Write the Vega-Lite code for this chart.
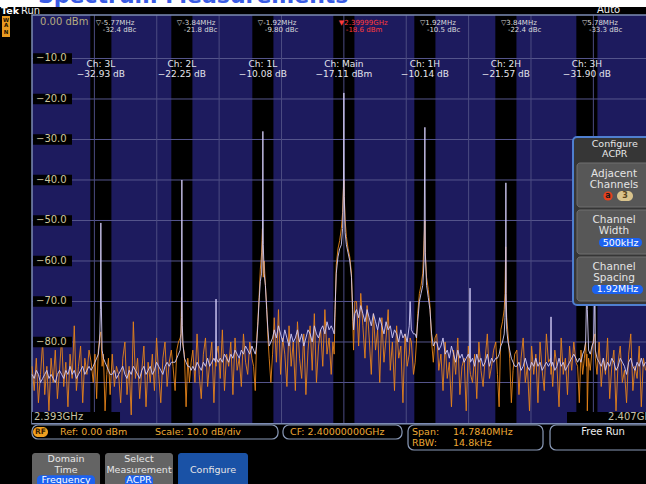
{
"$schema": "https://vega.github.io/schema/vega-lite/v6.json",
"width": 646, "height": 484,
"autosize": {"type": "none"},
"padding": 0,
"background": "#000000",
"config": {"view": {"stroke": null}, "text": {"font": "DejaVu Sans"}},
"encoding": {
 "x": {"field": "f", "type": "quantitative", "scale": {"domain": [2391.8495, 2407.161], "nice": false, "zero": false}, "axis": null},
 "y": {"field": "d", "type": "quantitative", "scale": {"domain": [-115.062, 4.444], "nice": false, "zero": false}, "axis": null}
},
"datasets": {
 "strip": [{"f": 2391.8, "f2": 2407.3, "d": 4.5, "d2": 2.716}],
 "title": [{"f": 2392.75, "d": 3.6, "t": "Spectrum Measurements"}],
 "plotbg": [{"f": 2392.608, "f2": 2407.392, "d": 0.74, "d2": -100.0}],
 "chan": [
  {"f": 2393.99, "f2": 2394.49, "d": 0.74, "d2": -100.0, "ch": "3L"},
  {"f": 2395.91, "f2": 2396.41, "d": 0.74, "d2": -100.0, "ch": "2L"},
  {"f": 2397.83, "f2": 2398.33, "d": 0.74, "d2": -100.0, "ch": "1L"},
  {"f": 2399.75, "f2": 2400.25, "d": 0.74, "d2": -100.0, "ch": "Main"},
  {"f": 2401.67, "f2": 2402.17, "d": 0.74, "d2": -100.0, "ch": "1H"},
  {"f": 2403.59, "f2": 2404.09, "d": 0.74, "d2": -100.0, "ch": "2H"},
  {"f": 2405.51, "f2": 2406.01, "d": 0.74, "d2": -100.0, "ch": "3H"}
 ],
 "hgrid": [
  {"f": 2392.608, "f2": 2407.392, "d": -10}, {"f": 2392.608, "f2": 2407.392, "d": -20},
  {"f": 2392.608, "f2": 2407.392, "d": -30}, {"f": 2392.608, "f2": 2407.392, "d": -40},
  {"f": 2392.608, "f2": 2407.392, "d": -50}, {"f": 2392.608, "f2": 2407.392, "d": -60},
  {"f": 2392.608, "f2": 2407.392, "d": -70}, {"f": 2392.608, "f2": 2407.392, "d": -80},
  {"f": 2392.608, "f2": 2407.392, "d": -90}
 ],
 "vgrid": [
  {"f": 2394.0864, "d": 0.74, "d2": -100}, {"f": 2395.5648, "d": 0.74, "d2": -100},
  {"f": 2397.0432, "d": 0.74, "d2": -100}, {"f": 2398.5216, "d": 0.74, "d2": -100},
  {"f": 2400.0, "d": 0.74, "d2": -100}, {"f": 2401.4784, "d": 0.74, "d2": -100},
  {"f": 2402.9568, "d": 0.74, "d2": -100}, {"f": 2404.4352, "d": 0.74, "d2": -100},
  {"f": 2405.9136, "d": 0.74, "d2": -100}
 ],
 "border": [{"f": 2392.608, "f2": 2407.5, "d": 0.74, "d2": -100.2}],
 "trace": [
  {"f":2392.61,"w":-88,"o":-86},{"f":2392.66,"w":-89,"o":-92},{"f":2392.71,"w":-87,"o":-84},{"f":2392.76,"w":-88,"o":-95},
  {"f":2392.81,"w":-90,"o":-88},{"f":2392.86,"w":-89,"o":-80},{"f":2392.91,"w":-88,"o":-93},{"f":2392.96,"w":-87,"o":-86},
  {"f":2393.01,"w":-89,"o":-97},{"f":2393.06,"w":-88,"o":-84},{"f":2393.11,"w":-89,"o":-90},{"f":2393.16,"w":-90,"o":-82},
  {"f":2393.21,"w":-88,"o":-94},{"f":2393.26,"w":-87,"o":-87},{"f":2393.31,"w":-88,"o":-79},{"f":2393.36,"w":-89,"o":-91},
  {"f":2393.41,"w":-87,"o":-85},{"f":2393.46,"w":-88,"o":-96},{"f":2393.51,"w":-86,"o":-83},{"f":2393.56,"w":-88,"o":-89},
  {"f":2393.61,"w":-87,"o":-76},{"f":2393.66,"w":-89,"o":-92},{"f":2393.71,"w":-88,"o":-86},{"f":2393.76,"w":-87,"o":-81},
  {"f":2393.81,"w":-86,"o":-95},{"f":2393.86,"w":-88,"o":-84},{"f":2393.91,"w":-87,"o":-88},{"f":2393.96,"w":-86,"o":-82},
  {"f":2394.01,"w":-87,"o":-85},{"f":2394.06,"w":-86,"o":-90},{"f":2394.10,"w":-85,"o":-83},{"f":2394.14,"w":-84,"o":-94},
  {"f":2394.18,"w":-83,"o":-82},{"f":2394.21,"w":-80,"o":-79},{"f":2394.23,"w":-72,"o":-78},{"f":2394.24,"w":-50.6,"o":-77.5},
  {"f":2394.25,"w":-70,"o":-80},{"f":2394.27,"w":-82,"o":-86},{"f":2394.30,"w":-84,"o":-83},{"f":2394.34,"w":-85,"o":-97},
  {"f":2394.38,"w":-86,"o":-88},{"f":2394.42,"w":-87,"o":-84},{"f":2394.46,"w":-88,"o":-93},
  {"f":2394.51,"w":-88,"o":-83},{"f":2394.56,"w":-87,"o":-91},{"f":2394.61,"w":-89,"o":-86},{"f":2394.66,"w":-88,"o":-88},
  {"f":2394.71,"w":-87,"o":-95},{"f":2394.76,"w":-86,"o":-84},{"f":2394.81,"w":-88,"o":-80},{"f":2394.86,"w":-89,"o":-93},
  {"f":2394.91,"w":-87,"o":-86},{"f":2394.96,"w":-88,"o":-98},{"f":2395.01,"w":-86,"o":-75},{"f":2395.06,"w":-87,"o":-89},
  {"f":2395.11,"w":-88,"o":-84},{"f":2395.16,"w":-89,"o":-94},{"f":2395.21,"w":-87,"o":-87},{"f":2395.26,"w":-86,"o":-81},
  {"f":2395.31,"w":-88,"o":-96},{"f":2395.36,"w":-87,"o":-85},{"f":2395.41,"w":-86,"o":-90},{"f":2395.46,"w":-88,"o":-83},
  {"f":2395.51,"w":-87,"o":-92},{"f":2395.56,"w":-85,"o":-79},{"f":2395.61,"w":-86,"o":-88},{"f":2395.66,"w":-87,"o":-95},
  {"f":2395.71,"w":-88,"o":-84},{"f":2395.76,"w":-86,"o":-80},{"f":2395.81,"w":-85,"o":-91},{"f":2395.86,"w":-86,"o":-85},
  {"f":2395.91,"w":-85,"o":-82},
  {"f":2395.95,"w":-85,"o":-86},{"f":2396.00,"w":-85,"o":-92},{"f":2396.04,"w":-84,"o":-82},{"f":2396.08,"w":-83,"o":-80},
  {"f":2396.12,"w":-82,"o":-79},{"f":2396.14,"w":-78,"o":-78},{"f":2396.15,"w":-74,"o":-69},{"f":2396.16,"w":-40,"o":-74},
  {"f":2396.17,"w":-76,"o":-80},{"f":2396.19,"w":-81,"o":-81},{"f":2396.22,"w":-84,"o":-83},{"f":2396.26,"w":-85,"o":-96},
  {"f":2396.30,"w":-86,"o":-84},{"f":2396.34,"w":-86,"o":-90},{"f":2396.38,"w":-87,"o":-85},
  {"f":2396.42,"w":-86,"o":-82},{"f":2396.47,"w":-87,"o":-90},{"f":2396.52,"w":-85,"o":-78},{"f":2396.57,"w":-86,"o":-88},
  {"f":2396.62,"w":-87,"o":-94},{"f":2396.67,"w":-85,"o":-83},{"f":2396.72,"w":-86,"o":-79},{"f":2396.77,"w":-84,"o":-91},
  {"f":2396.82,"w":-86,"o":-85},{"f":2396.87,"w":-85,"o":-80},{"f":2396.92,"w":-84,"o":-95},{"f":2396.96,"w":-85,"o":-84},
  {"f":2396.97,"w":-69.4,"o":-86},{"f":2396.98,"w":-84,"o":-83},{"f":2397.02,"w":-85,"o":-81},{"f":2397.07,"w":-84,"o":-89},
  {"f":2397.12,"w":-85,"o":-77},{"f":2397.17,"w":-83,"o":-92},{"f":2397.22,"w":-84,"o":-83},{"f":2397.27,"w":-85,"o":-86},
  {"f":2397.32,"w":-83,"o":-80},{"f":2397.37,"w":-84,"o":-93},{"f":2397.42,"w":-82,"o":-79},{"f":2397.47,"w":-83,"o":-87},
  {"f":2397.52,"w":-84,"o":-84},{"f":2397.57,"w":-82,"o":-91},{"f":2397.62,"w":-83,"o":-78},{"f":2397.67,"w":-81,"o":-85},
  {"f":2397.72,"w":-82,"o":-88},{"f":2397.77,"w":-83,"o":-80},{"f":2397.82,"w":-81,"o":-84},
  {"f":2397.86,"w":-82,"o":-86},{"f":2397.90,"w":-83,"o":-92},{"f":2397.93,"w":-81,"o":-80},{"f":2397.96,"w":-76,"o":-75},
  {"f":2397.99,"w":-70,"o":-69},{"f":2398.02,"w":-65,"o":-62},{"f":2398.05,"w":-63,"o":-58},{"f":2398.07,"w":-55,"o":-52},
  {"f":2398.08,"w":-28,"o":-60},{"f":2398.09,"w":-56,"o":-64},{"f":2398.11,"w":-63,"o":-60},{"f":2398.14,"w":-66,"o":-66},
  {"f":2398.17,"w":-72,"o":-71},{"f":2398.20,"w":-77,"o":-79},{"f":2398.23,"w":-81,"o":-84},{"f":2398.27,"w":-80,"o":-90},
  {"f":2398.31,"w":-79,"o":-83},
  {"f":2398.35,"w":-77,"o":-74},{"f":2398.40,"w":-79,"o":-85},{"f":2398.45,"w":-76,"o":-72},{"f":2398.50,"w":-78,"o":-88},
  {"f":2398.55,"w":-80,"o":-79},{"f":2398.60,"w":-77,"o":-83},{"f":2398.65,"w":-79,"o":-91},{"f":2398.70,"w":-81,"o":-76},
  {"f":2398.75,"w":-78,"o":-86},{"f":2398.80,"w":-80,"o":-80},{"f":2398.85,"w":-79,"o":-92},{"f":2398.90,"w":-77,"o":-75},
  {"f":2398.95,"w":-80,"o":-84},{"f":2399.00,"w":-78,"o":-89},{"f":2399.05,"w":-81,"o":-78},{"f":2399.10,"w":-79,"o":-93},
  {"f":2399.15,"w":-77,"o":-82},{"f":2399.20,"w":-78,"o":-76},{"f":2399.25,"w":-80,"o":-87},{"f":2399.30,"w":-76,"o":-73},
  {"f":2399.35,"w":-78,"o":-90},{"f":2399.40,"w":-79,"o":-81},{"f":2399.45,"w":-77,"o":-77},{"f":2399.50,"w":-76,"o":-86},
  {"f":2399.55,"w":-78,"o":-72},{"f":2399.60,"w":-75,"o":-83},{"f":2399.65,"w":-77,"o":-79},{"f":2399.70,"w":-76,"o":-88},
  {"f":2399.74,"w":-77,"o":-80},{"f":2399.77,"w":-78,"o":-83},{"f":2399.79,"w":-72,"o":-74},{"f":2399.82,"w":-63,"o":-61},
  {"f":2399.86,"w":-59,"o":-57},{"f":2399.90,"w":-57,"o":-55},{"f":2399.94,"w":-56,"o":-52},{"f":2399.97,"w":-52,"o":-48},
  {"f":2399.99,"w":-42,"o":-42},{"f":2400.00,"w":-18.5,"o":-40},{"f":2400.01,"w":-44,"o":-44},{"f":2400.03,"w":-53,"o":-50},
  {"f":2400.06,"w":-56,"o":-54},{"f":2400.10,"w":-58,"o":-57},{"f":2400.14,"w":-60,"o":-59},{"f":2400.18,"w":-64,"o":-63},
  {"f":2400.21,"w":-72,"o":-75},{"f":2400.23,"w":-77,"o":-82},{"f":2400.26,"w":-73,"o":-70},
  {"f":2400.30,"w":-72,"o":-70},{"f":2400.35,"w":-74,"o":-81},{"f":2400.40,"w":-71,"o":-68},{"f":2400.45,"w":-73,"o":-76},
  {"f":2400.50,"w":-75,"o":-84},{"f":2400.55,"w":-72,"o":-71},{"f":2400.60,"w":-74,"o":-79},{"f":2400.65,"w":-76,"o":-88},
  {"f":2400.70,"w":-73,"o":-73},{"f":2400.75,"w":-75,"o":-82},{"f":2400.80,"w":-77,"o":-77},{"f":2400.85,"w":-74,"o":-90},
  {"f":2400.90,"w":-76,"o":-74},{"f":2400.95,"w":-78,"o":-85},{"f":2401.00,"w":-75,"o":-79},{"f":2401.05,"w":-77,"o":-72},
  {"f":2401.10,"w":-76,"o":-87},{"f":2401.15,"w":-79,"o":-80},{"f":2401.20,"w":-77,"o":-92},{"f":2401.25,"w":-78,"o":-76},
  {"f":2401.30,"w":-80,"o":-84},{"f":2401.35,"w":-77,"o":-81},{"f":2401.40,"w":-79,"o":-95},{"f":2401.45,"w":-78,"o":-78},
  {"f":2401.50,"w":-80,"o":-86},{"f":2401.55,"w":-76,"o":-83},{"f":2401.57,"w":-70,"o":-79},{"f":2401.60,"w":-77,"o":-80},
  {"f":2401.65,"w":-78,"o":-88},
  {"f":2401.69,"w":-78,"o":-85},{"f":2401.72,"w":-79,"o":-80},{"f":2401.75,"w":-75,"o":-73},{"f":2401.79,"w":-70,"o":-68},
  {"f":2401.83,"w":-68,"o":-66},{"f":2401.87,"w":-66,"o":-63},{"f":2401.90,"w":-60,"o":-55},{"f":2401.92,"w":-27,"o":-50},
  {"f":2401.93,"w":-58,"o":-58},{"f":2401.96,"w":-66,"o":-64},{"f":2402.00,"w":-69,"o":-67},{"f":2402.04,"w":-72,"o":-71},
  {"f":2402.08,"w":-78,"o":-80},{"f":2402.12,"w":-81,"o":-85},{"f":2402.16,"w":-80,"o":-79},
  {"f":2402.20,"w":-80,"o":-78},{"f":2402.25,"w":-82,"o":-87},{"f":2402.30,"w":-81,"o":-83},{"f":2402.35,"w":-79,"o":-92},
  {"f":2402.40,"w":-83,"o":-80},{"f":2402.45,"w":-82,"o":-89},{"f":2402.50,"w":-84,"o":-85},{"f":2402.55,"w":-81,"o":-96},
  {"f":2402.60,"w":-83,"o":-82},{"f":2402.65,"w":-85,"o":-88},{"f":2402.70,"w":-82,"o":-79},{"f":2402.75,"w":-84,"o":-93},
  {"f":2402.80,"w":-83,"o":-86},{"f":2402.85,"w":-85,"o":-84},{"f":2402.90,"w":-84,"o":-97},{"f":2402.95,"w":-83,"o":-81},
  {"f":2402.98,"w":-84,"o":-85},{"f":2402.99,"w":-66.7,"o":-87},{"f":2403.00,"w":-85,"o":-88},{"f":2403.05,"w":-84,"o":-90},
  {"f":2403.10,"w":-86,"o":-83},{"f":2403.15,"w":-83,"o":-94},{"f":2403.20,"w":-85,"o":-80},{"f":2403.25,"w":-84,"o":-87},
  {"f":2403.30,"w":-86,"o":-91},{"f":2403.35,"w":-85,"o":-84},{"f":2403.40,"w":-83,"o":-78},{"f":2403.45,"w":-86,"o":-89},
  {"f":2403.50,"w":-84,"o":-86},{"f":2403.55,"w":-85,"o":-82},{"f":2403.60,"w":-84,"o":-80},
  {"f":2403.64,"w":-84,"o":-88},{"f":2403.68,"w":-83,"o":-96},{"f":2403.72,"w":-81,"o":-77},{"f":2403.76,"w":-80,"o":-75},
  {"f":2403.80,"w":-78,"o":-72},{"f":2403.82,"w":-74,"o":-68},{"f":2403.835,"w":-65,"o":-56.5},{"f":2403.84,"w":-40.7,"o":-62},
  {"f":2403.845,"w":-68,"o":-70},{"f":2403.86,"w":-77,"o":-74},{"f":2403.89,"w":-80,"o":-78},{"f":2403.93,"w":-82,"o":-84},
  {"f":2403.97,"w":-84,"o":-95},{"f":2404.01,"w":-85,"o":-87},{"f":2404.05,"w":-86,"o":-83},
  {"f":2404.10,"w":-86,"o":-82},{"f":2404.15,"w":-85,"o":-93},{"f":2404.20,"w":-87,"o":-84},{"f":2404.25,"w":-86,"o":-79},
  {"f":2404.30,"w":-84,"o":-90},{"f":2404.35,"w":-86,"o":-86},{"f":2404.40,"w":-87,"o":-97},{"f":2404.45,"w":-85,"o":-81},
  {"f":2404.50,"w":-86,"o":-88},{"f":2404.55,"w":-84,"o":-83},{"f":2404.60,"w":-86,"o":-95},{"f":2404.65,"w":-85,"o":-80},
  {"f":2404.70,"w":-87,"o":-87},{"f":2404.75,"w":-86,"o":-92},{"f":2404.80,"w":-85,"o":-78},{"f":2404.85,"w":-86,"o":-85},
  {"f":2404.90,"w":-85,"o":-84},{"f":2404.91,"w":-73.8,"o":-88},{"f":2404.92,"w":-86,"o":-86},{"f":2404.95,"w":-85,"o":-91},
  {"f":2405.00,"w":-87,"o":-82},{"f":2405.05,"w":-86,"o":-86},{"f":2405.10,"w":-84,"o":-96},{"f":2405.15,"w":-86,"o":-79},
  {"f":2405.20,"w":-85,"o":-88},{"f":2405.25,"w":-87,"o":-84},{"f":2405.30,"w":-86,"o":-93},{"f":2405.35,"w":-85,"o":-81},
  {"f":2405.40,"w":-84,"o":-87},{"f":2405.45,"w":-83,"o":-80},{"f":2405.50,"w":-84,"o":-85},
  {"f":2405.54,"w":-85,"o":-86},{"f":2405.58,"w":-84,"o":-95},{"f":2405.62,"w":-85,"o":-82},{"f":2405.66,"w":-83,"o":-88},
  {"f":2405.70,"w":-82,"o":-84},{"f":2405.73,"w":-80,"o":-80},{"f":2405.75,"w":-70,"o":-86},{"f":2405.76,"w":-51,"o":-83},
  {"f":2405.77,"w":-72,"o":-97},{"f":2405.80,"w":-82,"o":-84},{"f":2405.84,"w":-83,"o":-87},{"f":2405.88,"w":-81,"o":-82},
  {"f":2405.92,"w":-80,"o":-79},{"f":2405.95,"w":-66,"o":-78},{"f":2405.96,"w":-82,"o":-84},{"f":2406.00,"w":-84,"o":-88},
  {"f":2406.05,"w":-85,"o":-80},{"f":2406.10,"w":-86,"o":-91},{"f":2406.15,"w":-84,"o":-84},{"f":2406.20,"w":-87,"o":-88},
  {"f":2406.25,"w":-85,"o":-79},{"f":2406.30,"w":-86,"o":-94},{"f":2406.35,"w":-84,"o":-86},{"f":2406.40,"w":-85,"o":-82},
  {"f":2406.45,"w":-87,"o":-97},{"f":2406.50,"w":-86,"o":-85},{"f":2406.55,"w":-84,"o":-81},{"f":2406.60,"w":-85,"o":-90},
  {"f":2406.65,"w":-86,"o":-87},{"f":2406.70,"w":-88,"o":-95},{"f":2406.75,"w":-85,"o":-83},{"f":2406.80,"w":-84,"o":-78},
  {"f":2406.85,"w":-86,"o":-92},{"f":2406.90,"w":-87,"o":-86},{"f":2406.95,"w":-85,"o":-89},{"f":2407.00,"w":-86,"o":-81},
  {"f":2407.05,"w":-84,"o":-96},{"f":2407.10,"w":-86,"o":-84},{"f":2407.15,"w":-85,"o":-87}
 ],
 "ylabbox": [
  {"f": 2392.632, "f2": 2393.556, "d": -8.7, "d2": -11.3}, {"f": 2392.632, "f2": 2393.556, "d": -18.7, "d2": -21.3},
  {"f": 2392.632, "f2": 2393.556, "d": -28.7, "d2": -31.3}, {"f": 2392.632, "f2": 2393.556, "d": -38.7, "d2": -41.3},
  {"f": 2392.632, "f2": 2393.556, "d": -48.7, "d2": -51.3}, {"f": 2392.632, "f2": 2393.556, "d": -58.7, "d2": -61.3},
  {"f": 2392.632, "f2": 2393.556, "d": -68.7, "d2": -71.3}, {"f": 2392.632, "f2": 2393.556, "d": -78.7, "d2": -81.3}
 ],
 "ylab": [
  {"f": 2392.703, "d": -10, "t": "−10.0"}, {"f": 2392.703, "d": -20, "t": "−20.0"},
  {"f": 2392.703, "d": -30, "t": "−30.0"}, {"f": 2392.703, "d": -40, "t": "−40.0"},
  {"f": 2392.703, "d": -50, "t": "−50.0"}, {"f": 2392.703, "d": -60, "t": "−60.0"},
  {"f": 2392.703, "d": -70, "t": "−70.0"}, {"f": 2392.703, "d": -80, "t": "−80.0"}
 ],
 "reflab": [{"f": 2392.798, "d": -0.988, "t": "0.00 dBm"}],
 "freqbox": [{"f": 2392.608, "f2": 2394.694, "d": -97.284, "d2": -100.0}, {"f": 2405.289, "f2": 2407.5, "d": -97.284, "d2": -100.0}],
 "freqlab": [{"f": 2392.655, "d": -98.64, "t": "2.393GHz"}, {"f": 2406.261, "d": -98.64, "t": "2.407GHz"}],
 "chlab": [
  {"f": 2394.24, "d": -11.407, "t": "Ch: 3L"}, {"f": 2394.24, "d": -13.778, "t": "−32.93 dB"},
  {"f": 2396.16, "d": -11.407, "t": "Ch: 2L"}, {"f": 2396.16, "d": -13.778, "t": "−22.25 dB"},
  {"f": 2398.08, "d": -11.407, "t": "Ch: 1L"}, {"f": 2398.08, "d": -13.778, "t": "−10.08 dB"},
  {"f": 2400.0, "d": -11.407, "t": "Ch: Main"}, {"f": 2400.0, "d": -13.778, "t": "−17.11 dBm"},
  {"f": 2401.92, "d": -11.407, "t": "Ch: 1H"}, {"f": 2401.92, "d": -13.778, "t": "−10.14 dB"},
  {"f": 2403.84, "d": -11.407, "t": "Ch: 2H"}, {"f": 2403.84, "d": -13.778, "t": "−21.57 dB"},
  {"f": 2405.76, "d": -11.407, "t": "Ch: 3H"}, {"f": 2405.76, "d": -13.778, "t": "−31.90 dB"}
 ],
 "markers": [
  {"f": 2394.24, "d": -1.186, "t": "▽-5.77MHz", "l": 1, "r": 0}, {"f": 2394.24, "d": -2.889, "t": "-32.4 dBc", "l": 2, "r": 0},
  {"f": 2396.16, "d": -1.186, "t": "▽-3.84MHz", "l": 1, "r": 0}, {"f": 2396.16, "d": -2.889, "t": "-21.8 dBc", "l": 2, "r": 0},
  {"f": 2398.08, "d": -1.186, "t": "▽-1.92MHz", "l": 1, "r": 0}, {"f": 2398.08, "d": -2.889, "t": "-9.80 dBc", "l": 2, "r": 0},
  {"f": 2400.0, "d": -1.186, "t": "▼2.39999GHz", "l": 1, "r": 1}, {"f": 2400.0, "d": -2.889, "t": "-18.6 dBm", "l": 2, "r": 1},
  {"f": 2401.92, "d": -1.186, "t": "▽1.92MHz", "l": 1, "r": 0}, {"f": 2401.92, "d": -2.889, "t": "-10.5 dBc", "l": 2, "r": 0},
  {"f": 2403.84, "d": -1.186, "t": "▽3.84MHz", "l": 1, "r": 0}, {"f": 2403.84, "d": -2.889, "t": "-22.4 dBc", "l": 2, "r": 0},
  {"f": 2405.76, "d": -1.186, "t": "▽5.78MHz", "l": 1, "r": 0}, {"f": 2405.76, "d": -2.889, "t": "-33.3 dBc", "l": 2, "r": 0}
 ],
 "tek": [{"f": 2391.873, "d": 1.605, "t": "Tek"}],
 "hdr": [{"f": 2392.347, "d": 1.605, "t": "Run"}, {"f": 2406.0, "d": 1.9, "t": "Auto"}],
 "wanbox": [{"f": 2391.897, "f2": 2392.087, "d": 0.494, "d2": -4.692}],
 "wantext": [{"f": 2391.992, "d": -0.371, "t": "W"}, {"f": 2391.992, "d": -1.852, "t": "A"}, {"f": 2391.992, "d": -3.58, "t": "N"}],
 "statbox": [
  {"f": 2392.608, "f2": 2398.439, "d": -100.494, "d2": -103.951},
  {"f": 2398.557, "f2": 2401.378, "d": -100.494, "d2": -103.951},
  {"f": 2401.520, "f2": 2404.720, "d": -100.494, "d2": -106.667},
  {"f": 2404.886, "f2": 2407.6, "d": -100.494, "d2": -106.667}
 ],
 "rfbox": [{"f": 2392.632, "f2": 2392.987, "d": -100.988, "d2": -103.457}],
 "rftext": [{"f": 2392.809, "d": -102.223, "t": "RF"}],
 "gold": [
  {"f": 2393.272, "d": -102.223, "t": "Ref: 0.00 dBm"},
  {"f": 2395.523, "d": -102.223, "t": "Scale: 10.0 dB/div"},
  {"f": 2398.723, "d": -102.223, "t": "CF: 2.40000000GHz"},
  {"f": 2401.615, "d": -102.223, "t": "Span:"},
  {"f": 2402.587, "d": -102.223, "t": "14.7840MHz"},
  {"f": 2401.615, "d": -104.938, "t": "RBW:"},
  {"f": 2402.587, "d": -104.938, "t": "14.8kHz"}
 ],
 "freerun": [{"f": 2406.142, "d": -102.223, "t": "Free Run"}],
 "btn": [
  {"f": 2392.608, "f2": 2394.220, "d": -107.408, "d2": -117, "k": "g"},
  {"f": 2394.338, "f2": 2395.950, "d": -107.408, "d2": -117, "k": "g"},
  {"f": 2396.069, "f2": 2397.728, "d": -107.408, "d2": -117, "k": "b"}
 ],
 "btntext": [
  {"f": 2393.414, "d": -108.889, "t": "Domain"}, {"f": 2393.414, "d": -111.7, "t": "Time"},
  {"f": 2395.144, "d": -108.889, "t": "Select"}, {"f": 2395.144, "d": -111.5, "t": "Measurement"},
  {"f": 2396.898, "d": -111.605, "t": "Configure"}
 ],
 "hl": [
  {"f": 2392.727, "f2": 2394.101, "d": -112.9, "d2": -116.5},
  {"f": 2394.812, "f2": 2395.476, "d": -112.9, "d2": -116.5},
  {"f": 2406.047, "f2": 2407.066, "d": -54.321, "d2": -56.544},
  {"f": 2405.881, "f2": 2407.090, "d": -65.926, "d2": -68.149}
 ],
 "hltext": [
  {"f": 2393.414, "d": -114.1, "t": "Frequency"},
  {"f": 2395.144, "d": -114.1, "t": "ACPR"},
  {"f": 2406.557, "d": -55.482, "t": "500kHz"},
  {"f": 2406.486, "d": -66.988, "t": "1.92MHz"}
 ],
 "panel": [{"f": 2405.431, "f2": 2407.6, "d": -29.383, "d2": -70.865}],
 "pbtn": [
  {"f": 2405.526, "f2": 2407.6, "d": -35.803, "d2": -46.667},
  {"f": 2405.526, "f2": 2407.6, "d": -47.408, "d2": -58.272},
  {"f": 2405.526, "f2": 2407.6, "d": -59.013, "d2": -69.877}
 ],
 "ptitle": [{"f": 2406.42, "d": -31.2, "t": "Configure"}, {"f": 2406.42, "d": -33.55, "t": "ACPR"}],
 "ptext": [
  {"f": 2406.403, "d": -38.45, "t": "Adjacent"}, {"f": 2406.403, "d": -41.15, "t": "Channels"},
  {"f": 2406.403, "d": -49.9, "t": "Channel"}, {"f": 2406.403, "d": -52.6, "t": "Width"},
  {"f": 2406.403, "d": -61.4, "t": "Channel"}, {"f": 2406.403, "d": -64.1, "t": "Spacing"}
 ],
 "reddot": [{"f": 2406.261, "d": -43.951, "t": "a"}],
 "beige": [{"f": 2406.474, "f2": 2406.853, "d": -42.717, "d2": -45.19}],
 "beigetext": [{"f": 2406.663, "d": -43.951, "t": "3"}]
},
"layer": [
 {"data": {"name": "strip"}, "mark": {"type": "rect", "color": "#ffffff"}, "encoding": {"x2": {"field": "f2"}, "y2": {"field": "d2"}}},
 {"data": {"name": "title"}, "mark": {"type": "text", "align": "left", "baseline": "alphabetic", "fontSize": 22, "fontWeight": "bold", "color": "#3a5ce4"}, "encoding": {"text": {"field": "t"}}},
 {"data": {"name": "plotbg"}, "mark": {"type": "rect", "color": "#1d1b5e"}, "encoding": {"x2": {"field": "f2"}, "y2": {"field": "d2"}}},
 {"data": {"name": "chan"}, "mark": {"type": "rect", "color": "#000000"}, "encoding": {"x2": {"field": "f2"}, "y2": {"field": "d2"}}},
 {"data": {"name": "hgrid"}, "mark": {"type": "rule", "color": "#56568c", "strokeWidth": 1}, "encoding": {"x2": {"field": "f2"}}},
 {"data": {"name": "vgrid"}, "mark": {"type": "rule", "color": "#4c4c82", "strokeWidth": 1}, "encoding": {"y2": {"field": "d2"}}},
 {"data": {"name": "border"}, "mark": {"type": "rect", "filled": false, "color": "#7c8cb4", "strokeWidth": 1.5}, "encoding": {"x2": {"field": "f2"}, "y2": {"field": "d2"}}},
 {"data": {"name": "trace"}, "mark": {"type": "line", "color": "#e8841a", "strokeWidth": 1, "opacity": 0.9}, "encoding": {"y": {"field": "o", "type": "quantitative", "scale": {"domain": [-115.062, 4.444], "nice": false, "zero": false}, "axis": null}}},
 {"data": {"name": "trace"}, "mark": {"type": "line", "color": "#d2cbf6", "strokeWidth": 1, "opacity": 0.9}, "encoding": {"y": {"field": "w", "type": "quantitative", "scale": {"domain": [-115.062, 4.444], "nice": false, "zero": false}, "axis": null}}},
 {"data": {"name": "ylabbox"}, "mark": {"type": "rect", "color": "#000000"}, "encoding": {"x2": {"field": "f2"}, "y2": {"field": "d2"}}},
 {"data": {"name": "ylab"}, "mark": {"type": "text", "align": "left", "fontSize": 10, "color": "#cfc69f"}, "encoding": {"text": {"field": "t"}}},
 {"data": {"name": "reflab"}, "mark": {"type": "text", "align": "left", "fontSize": 10, "color": "#b4aa80"}, "encoding": {"text": {"field": "t"}}},
 {"data": {"name": "freqbox"}, "mark": {"type": "rect", "color": "#000000"}, "encoding": {"x2": {"field": "f2"}, "y2": {"field": "d2"}}},
 {"data": {"name": "freqlab"}, "mark": {"type": "text", "align": "left", "fontSize": 10, "color": "#c6c0a8"}, "encoding": {"text": {"field": "t"}}},
 {"data": {"name": "chlab"}, "mark": {"type": "text", "align": "center", "fontSize": 9, "color": "#e4e4ec"}, "encoding": {"text": {"field": "t"}}},
 {"data": {"name": "markers"}, "transform": [{"filter": "datum.l == 1"}], "mark": {"type": "text", "align": "left", "dx": -5, "fontSize": 7}, "encoding": {"text": {"field": "t"}, "color": {"condition": {"test": "datum.r == 1", "value": "#ff3a3a"}, "value": "#dcdcdc"}}},
 {"data": {"name": "markers"}, "transform": [{"filter": "datum.l == 2"}], "mark": {"type": "text", "align": "left", "dx": 2, "fontSize": 7}, "encoding": {"text": {"field": "t"}, "color": {"condition": {"test": "datum.r == 1", "value": "#ff3a3a"}, "value": "#dcdcdc"}}},
 {"data": {"name": "tek"}, "mark": {"type": "text", "align": "left", "fontSize": 9.5, "fontWeight": "bold", "color": "#ffffff"}, "encoding": {"text": {"field": "t"}}},
 {"data": {"name": "hdr"}, "mark": {"type": "text", "align": "left", "fontSize": 10, "color": "#f0f0f0"}, "encoding": {"text": {"field": "t"}}},
 {"data": {"name": "wanbox"}, "mark": {"type": "rect", "color": "#e89a20"}, "encoding": {"x2": {"field": "f2"}, "y2": {"field": "d2"}}},
 {"data": {"name": "wantext"}, "mark": {"type": "text", "align": "center", "fontSize": 5.5, "fontWeight": "bold", "color": "#1a1000"}, "encoding": {"text": {"field": "t"}}},
 {"data": {"name": "statbox"}, "mark": {"type": "rect", "fill": "#000000", "stroke": "#8a9ab8", "strokeWidth": 1.2, "cornerRadius": 6}, "encoding": {"x2": {"field": "f2"}, "y2": {"field": "d2"}}},
 {"data": {"name": "rfbox"}, "mark": {"type": "rect", "color": "#f0a020", "cornerRadius": 5}, "encoding": {"x2": {"field": "f2"}, "y2": {"field": "d2"}}},
 {"data": {"name": "rftext"}, "mark": {"type": "text", "align": "center", "fontSize": 7.5, "fontWeight": "bold", "color": "#3a2000"}, "encoding": {"text": {"field": "t"}}},
 {"data": {"name": "gold"}, "mark": {"type": "text", "align": "left", "fontSize": 9.5, "color": "#eda934"}, "encoding": {"text": {"field": "t"}}},
 {"data": {"name": "freerun"}, "mark": {"type": "text", "align": "center", "fontSize": 10, "color": "#ececec"}, "encoding": {"text": {"field": "t"}}},
 {"data": {"name": "btn"}, "mark": {"type": "rect", "cornerRadius": 3}, "encoding": {"x2": {"field": "f2"}, "y2": {"field": "d2"}, "color": {"condition": {"test": "datum.k == 'b'", "value": "#1a52a6"}, "value": "#646464"}}},
 {"data": {"name": "btntext"}, "mark": {"type": "text", "align": "center", "fontSize": 9.5, "color": "#e6e6e6"}, "encoding": {"text": {"field": "t"}}},
 {"data": {"name": "panel"}, "mark": {"type": "rect", "fill": "#363636", "stroke": "#4f7fd0", "strokeWidth": 2, "cornerRadius": 4}, "encoding": {"x2": {"field": "f2"}, "y2": {"field": "d2"}}},
 {"data": {"name": "pbtn"}, "mark": {"type": "rect", "fill": "#575757", "stroke": "#707070", "strokeWidth": 1, "cornerRadius": 3}, "encoding": {"x2": {"field": "f2"}, "y2": {"field": "d2"}}},
 {"data": {"name": "hl"}, "mark": {"type": "rect", "color": "#1c62f0", "cornerRadius": 4}, "encoding": {"x2": {"field": "f2"}, "y2": {"field": "d2"}}},
 {"data": {"name": "hltext"}, "mark": {"type": "text", "align": "center", "fontSize": 9.5, "color": "#ffffff"}, "encoding": {"text": {"field": "t"}}},
 {"data": {"name": "ptitle"}, "mark": {"type": "text", "align": "center", "fontSize": 9.5, "color": "#e8e8e8"}, "encoding": {"text": {"field": "t"}}},
 {"data": {"name": "ptext"}, "mark": {"type": "text", "align": "center", "fontSize": 10.5, "color": "#e4e4e4"}, "encoding": {"text": {"field": "t"}}},
 {"data": {"name": "reddot"}, "mark": {"type": "point", "filled": true, "shape": "circle", "size": 85, "color": "#e8401c", "opacity": 1}},
 {"data": {"name": "reddot"}, "mark": {"type": "text", "align": "center", "fontSize": 8, "fontWeight": "bold", "color": "#1a1a1a"}, "encoding": {"text": {"field": "t"}}},
 {"data": {"name": "beige"}, "mark": {"type": "rect", "color": "#d9c38c", "cornerRadius": 5}, "encoding": {"x2": {"field": "f2"}, "y2": {"field": "d2"}}},
 {"data": {"name": "beigetext"}, "mark": {"type": "text", "align": "center", "fontSize": 8, "fontWeight": "bold", "color": "#5a4620"}, "encoding": {"text": {"field": "t"}}}
]
}
